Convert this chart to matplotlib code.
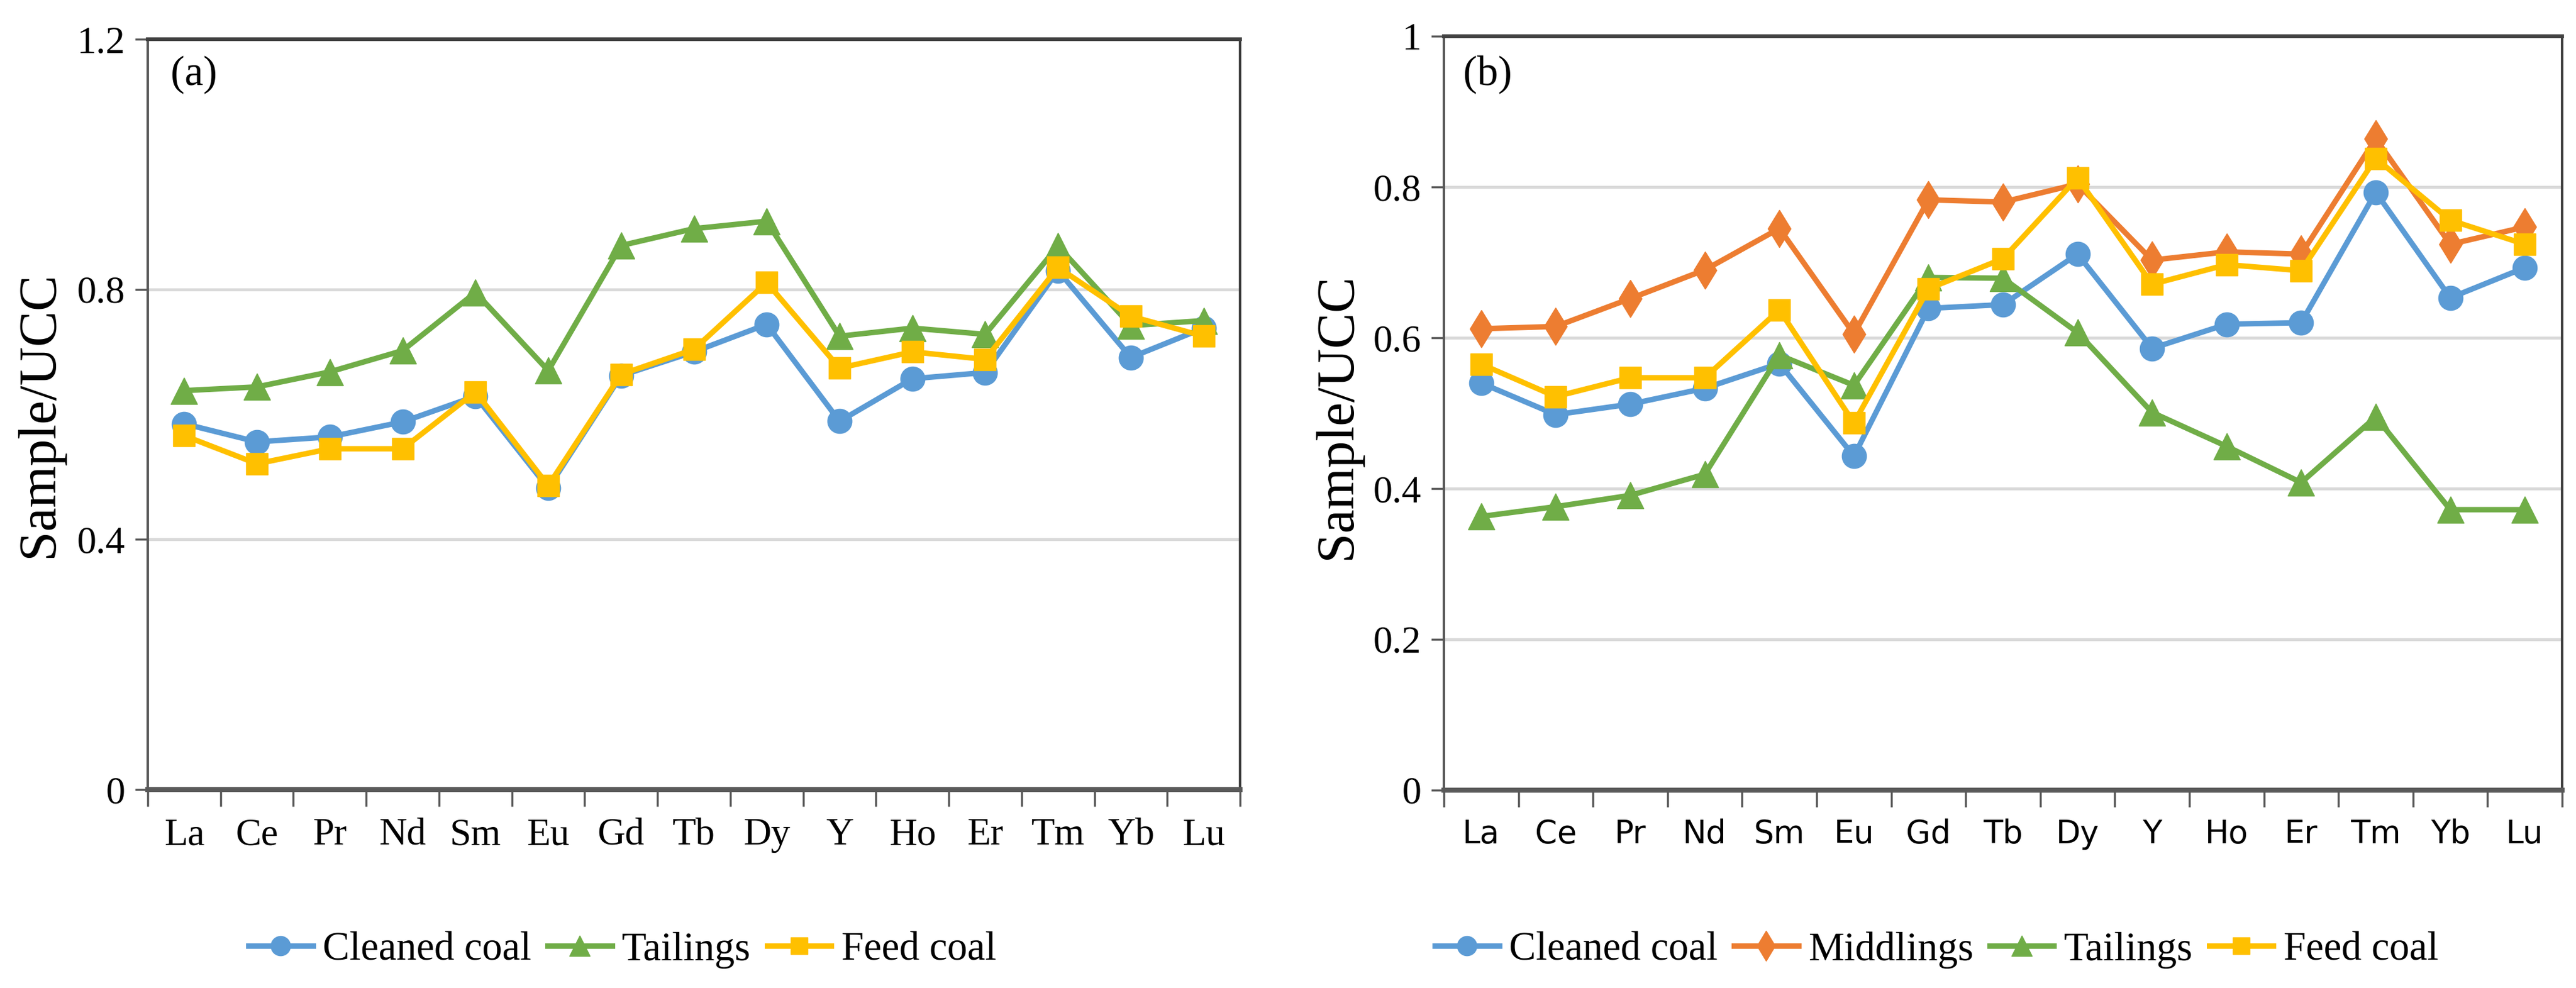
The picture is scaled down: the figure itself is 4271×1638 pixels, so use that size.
import matplotlib
matplotlib.use("Agg")
import matplotlib.pyplot as plt
import numpy as np

# ---------------- data ----------------
elements = ['La', 'Ce', 'Pr', 'Nd', 'Sm', 'Eu', 'Gd', 'Tb', 'Dy', 'Y', 'Ho', 'Er', 'Tm', 'Yb', 'Lu']

# panel (a)
cleaned_a = [0.585, 0.556, 0.564, 0.588, 0.629, 0.482, 0.662, 0.700, 0.744, 0.589, 0.657, 0.667, 0.830, 0.691, 0.738]
tailings_a = [0.638, 0.644, 0.668, 0.702, 0.795, 0.670, 0.870, 0.897, 0.909, 0.725, 0.738, 0.728, 0.869, 0.742, 0.750]
feed_a = [0.566, 0.521, 0.545, 0.545, 0.636, 0.486, 0.664, 0.704, 0.811, 0.674, 0.700, 0.688, 0.835, 0.757, 0.725]

# panel (b)
cleaned_b = [0.540, 0.498, 0.512, 0.533, 0.566, 0.443, 0.639, 0.644, 0.711, 0.586, 0.618, 0.620, 0.793, 0.653, 0.693]
middlings_b = [0.612, 0.615, 0.652, 0.690, 0.745, 0.605, 0.783, 0.780, 0.804, 0.703, 0.714, 0.711, 0.864, 0.724, 0.747]
tailings_b = [0.363, 0.376, 0.391, 0.419, 0.577, 0.537, 0.680, 0.679, 0.607, 0.501, 0.456, 0.408, 0.495, 0.372, 0.372]
feed_b = [0.565, 0.522, 0.547, 0.547, 0.637, 0.487, 0.665, 0.705, 0.812, 0.671, 0.697, 0.689, 0.838, 0.756, 0.724]

yticks_a = [0, 0.4, 0.8, 1.2]
yticklabels_a = ['0', '0.4', '0.8', '1.2']
yticks_b = [0, 0.2, 0.4, 0.6, 0.8, 1.0]
yticklabels_b = ['0', '0.2', '0.4', '0.6', '0.8', '1']

# ---------------- style ----------------
BLUE = '#5B9BD5'
ORANGE = '#ED7D31'
GREEN = '#70AD47'
YELLOW = '#FFC000'
SERIF = ['Liberation Serif', 'DejaVu Serif']
SANS = ['DejaVu Sans']

W, H = 4271, 1638
fig = plt.figure(figsize=(W / 100, H / 100), dpi=100)
fig.patch.set_facecolor('white')

LW = 6.5
MS_O, MS_S, MS_T, MS_D = 29, 26, 31, 32


def style_axes(ax, yticks, yticklabels, ymax, xfont, xsize):
    x = np.arange(len(elements))
    ax.set_xlim(-0.5, len(elements) - 0.5)
    ax.set_ylim(0, ymax)
    ax.set_xticks(x)
    ax.set_xticklabels(elements, fontfamily=xfont, fontsize=xsize)
    ax.set_xticks(np.arange(-0.5, len(elements), 1.0), minor=True)
    ax.tick_params(axis='x', which='major', length=0, pad=34)
    ax.tick_params(axis='x', which='minor', length=20, width=2.5, color='#595959', direction='out')
    ax.set_yticks(yticks)
    ax.set_yticklabels(yticklabels, fontfamily=SERIF, fontsize=46)
    ax.tick_params(axis='y', which='major', length=15, width=2.5, color='#595959', direction='out', pad=12)
    ax.yaxis.grid(True, color='#D9D9D9', linewidth=3.5, zorder=0)
    ax.set_axisbelow(True)
    ax.spines['top'].set_color('#404040')
    ax.spines['top'].set_linewidth(4.5)
    ax.spines['right'].set_color('#404040')
    ax.spines['right'].set_linewidth(3)
    ax.spines['left'].set_color('#595959')
    ax.spines['left'].set_linewidth(3)
    ax.spines['bottom'].set_color('#595959')
    ax.spines['bottom'].set_linewidth(6)


# ---------------- panel (a) ----------------
axa = fig.add_axes([245 / W, 1 - 1309 / H, (2056 - 245) / W, (1309 - 65) / H])
xa = np.arange(len(elements))
axa.plot(xa, cleaned_a, color=BLUE, lw=LW, marker='o', ms=MS_O, label='Cleaned coal', zorder=3)
axa.plot(xa, tailings_a, color=GREEN, lw=LW, marker='^', ms=MS_T, label='Tailings', zorder=4)
axa.plot(xa, feed_a, color=YELLOW, lw=LW, marker='s', ms=MS_S, label='Feed coal', zorder=5)
style_axes(axa, yticks_a, yticklabels_a, 1.2, SERIF, 46)
axa.text(0.021, 0.978, '(a)', transform=axa.transAxes, ha='left', va='top',
         fontfamily=SERIF, fontsize=50, color='black')
fig.text(66 / W, 1 - 687 / H, 'Sample/UCC', rotation=90, ha='center', va='center',
         fontfamily=SERIF, fontsize=64)
ha, la = axa.get_legend_handles_labels()
fig.legend(ha, la, loc='center', bbox_to_anchor=(1032 / W, 1 - 1575 / H), ncol=3,
           frameon=False, prop={'family': SERIF, 'size': 48}, handlelength=1.6,
           handletextpad=0.25, columnspacing=0.4, markerscale=0.8, numpoints=1)

# ---------------- panel (b) ----------------
axb = fig.add_axes([2394 / W, 1 - 1310 / H, (4248 - 2394) / W, (1310 - 60) / H])
xb = np.arange(len(elements))
axb.plot(xb, cleaned_b, color=BLUE, lw=LW, marker='o', ms=MS_O, label='Cleaned coal', zorder=3)
axb.plot(xb, middlings_b, color=ORANGE, lw=LW, marker='d', ms=MS_D, label='Middlings', zorder=4)
axb.plot(xb, tailings_b, color=GREEN, lw=LW, marker='^', ms=MS_T, label='Tailings', zorder=5)
axb.plot(xb, feed_b, color=YELLOW, lw=LW, marker='s', ms=MS_S, label='Feed coal', zorder=6)
style_axes(axb, yticks_b, yticklabels_b, 1.0, SANS, 38)
axb.text(0.017, 0.975, '(b)', transform=axb.transAxes, ha='left', va='top',
         fontfamily=SERIF, fontsize=50, color='black')
fig.text(2218 / W, 1 - 690 / H, 'Sample/UCC', rotation=90, ha='center', va='center',
         fontfamily=SERIF, fontsize=64)
hb, lb = axb.get_legend_handles_labels()
fig.legend(hb, lb, loc='center', bbox_to_anchor=(3211 / W, 1 - 1575 / H), ncol=4,
           frameon=False, prop={'family': SERIF, 'size': 48}, handlelength=1.6,
           handletextpad=0.25, columnspacing=0.4, markerscale=0.8, numpoints=1)

fig.savefig('out.png', dpi=100, facecolor='white')
